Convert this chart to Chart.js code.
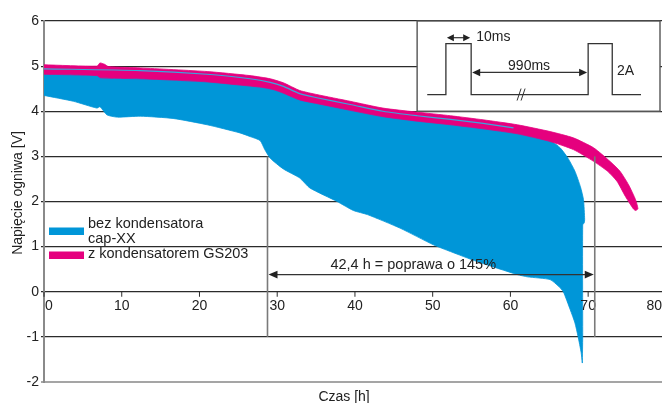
<!DOCTYPE html>
<html lang="pl">
<head>
<meta charset="utf-8">
<title>Napięcie ogniwa</title>
<script src="https://cdn.jsdelivr.net/npm/chart.js@4.4.1/dist/chart.umd.min.js"></script>
<style>
  html, body { margin: 0; padding: 0; background: #fff; overflow: hidden; }
  #wrap { width: 662px; height: 403px; }
</style>
</head>
<body>
<div id="wrap"><canvas id="chart" width="662" height="403"></canvas></div>
<script>
/* Battery voltage vs time, with / without the GS203 supercap.
   Bands are closed polygons: upper edge forward, lower edge back. */

const FONT = '"Liberation Sans", Arial, Helvetica, sans-serif';
const BLUE = "#0096d8";
const PINK = "#e5007e";

const xTickLabels = [0, 10, 20, 30, 40, 50, 60, 70, 80];
const yTickLabels = [-2, -1, 0, 1, 2, 3, 4, 5, 6];
const legendLabels = [["bez kondensatora", "cap-XX"], ["z kondensatorem GS203"]];

// pink band (z kondensatorem)
const pinkUpperH = [0, 6.8, 7.2, 7.8, 8.3, 12.4, 21, 26.5, 29.1, 30.8, 32.9, 35.1, 39.4, 43.6, 48, 52.3, 56.5, 60.9, 65.1, 68.1, 70.7, 72.8, 74.1, 75.2, 76.1, 76.4];
const pinkUpperV = [5.03, 5.0, 5.07, 5.04, 4.99, 4.96, 4.88, 4.79, 4.72, 4.63, 4.46, 4.37, 4.22, 4.07, 3.98, 3.9, 3.81, 3.7, 3.55, 3.41, 3.19, 2.89, 2.67, 2.37, 2.04, 1.84];
const pinkLowerH = [0, 6.8, 7.3, 12.4, 16.6, 21, 25.2, 28, 29.5, 30.8, 32.9, 35.1, 39.4, 43.6, 48, 52.3, 56.5, 60.9, 65.1, 68.1, 70.7, 72.5, 73.7, 74.8, 75.8, 76.1];
const pinkLowerV = [4.82, 4.79, 4.74, 4.72, 4.69, 4.65, 4.58, 4.53, 4.48, 4.4, 4.25, 4.17, 4.02, 3.88, 3.78, 3.7, 3.61, 3.5, 3.33, 3.15, 2.89, 2.67, 2.45, 2.11, 1.84, 1.8];

// blue band (bez kondensatora)
const blueUpperH = [0, 12.4, 21, 26.5, 29.1, 30.8, 32.9, 35.1, 39.4, 43.6, 48, 52.3, 56.5, 60.4, 62.5, 65.1, 66.4, 67.4, 68.3, 69.0, 69.4, 69.55, 69.5, 69.3, 69.3, 69.25];
const blueUpperV = [4.94, 4.9, 4.82, 4.72, 4.64, 4.55, 4.39, 4.3, 4.15, 4.0, 3.9, 3.82, 3.73, 3.63, 3.55, 3.36, 3.19, 2.96, 2.67, 2.33, 2.04, 1.6, 1.53, 1.48, -1.0, -1.58];
const blueLowerH = [0, 3.8, 6.8, 7.2, 8.1, 9.4, 12.4, 16.6, 21, 25.2, 26.5, 27.8, 28.4, 29.1, 30.8, 32.9, 34.2, 37.7, 39.8, 41.6, 45.8, 50.1, 52.3, 55.7, 60.9, 62.2, 65.1, 66.2, 66.8, 67.7, 68.3, 68.7, 69.1, 69.25];
const blueLowerV = [4.35, 4.22, 4.07, 4.1, 3.92, 3.87, 3.89, 3.84, 3.7, 3.52, 3.44, 3.35, 3.15, 2.96, 2.72, 2.52, 2.3, 2.0, 1.8, 1.71, 1.41, 1.04, 0.89, 0.67, 0.38, 0.33, 0.27, 0.12, 0.0, -0.4, -0.69, -0.99, -1.35, -1.58];

// thin blue trace visible inside the pink band
const traceH = [0, 12.4, 21, 26.5, 29.1, 30.8, 32.9, 35.1, 39.4, 43.6, 48, 52.3, 56.5, 60.4];
const traceV = [4.94, 4.9, 4.82, 4.72, 4.64, 4.55, 4.39, 4.3, 4.15, 4.0, 3.9, 3.82, 3.73, 3.63];

// runtime improvement markers (h) and arrow level (V)
const markerH = [28.75, 70.85];
const markerArrowV = 0.38;

function pts(hs, vs) {
  return hs.map((h, i) => ({ x: h, y: vs[i] }));
}

function band(upH, upV, loH, loV) {
  return pts(upH, upV).concat(pts(loH, loV).reverse());
}

function arrowHead(ctx, x, y, dir, len, half) {
  ctx.beginPath();
  ctx.moveTo(x, y);
  ctx.lineTo(x - dir * len, y - half);
  ctx.lineTo(x - dir * len, y + half);
  ctx.closePath();
  ctx.fill();
}

const overlay = {
  id: "overlay",
  afterDraw(chart) {
    const { ctx, chartArea: a, scales } = chart;
    const px = (v) => scales.x.getPixelForValue(v);
    const py = (v) => scales.y.getPixelForValue(v);
    ctx.save();
    ctx.fillStyle = "#222";
    ctx.strokeStyle = "#2b2b2b";

    // x ticks sit on the zero line
    const y0 = py(0);
    ctx.lineWidth = 1;
    ctx.font = "14px " + FONT;
    ctx.textBaseline = "middle";
    xTickLabels.forEach((t) => {
      const X = px(t);
      if (X <= a.right) {
        ctx.beginPath();
        ctx.moveTo(X, y0);
        ctx.lineTo(X, y0 + 5);
        ctx.stroke();
      }
      let tx = X;
      ctx.textAlign = "center";
      if (t === 0) { ctx.textAlign = "left"; tx = X + 1; }
      else if (X > a.right - 10) { ctx.textAlign = "right"; tx = a.right; }
      ctx.fillText(String(t), tx, y0 + 14);
    });

    // axis titles
    ctx.textAlign = "center";
    ctx.fillText("Czas [h]", px(38.6), a.bottom + 15);
    ctx.save();
    ctx.translate(18, a.top + 172);
    ctx.rotate(-Math.PI / 2);
    ctx.fillText("Napięcie ogniwa [V]", 0, 0);
    ctx.restore();

    // marker lines + arrow
    ctx.strokeStyle = "#7a7a7a";
    ctx.lineWidth = 1.6;
    markerH.forEach((h) => {
      ctx.beginPath();
      ctx.moveTo(px(h), py(3));
      ctx.lineTo(px(h), py(-1));
      ctx.stroke();
    });
    const ay = py(markerArrowV);
    const ax1 = px(markerH[0]) + 1, ax2 = px(markerH[1]) - 1;
    ctx.strokeStyle = "#333";
    ctx.lineWidth = 1.2;
    ctx.beginPath();
    ctx.moveTo(ax1 + 4, ay);
    ctx.lineTo(ax2 - 4, ay);
    ctx.stroke();
    ctx.fillStyle = "#222";
    arrowHead(ctx, ax1, ay, -1, 9, 3.8);
    arrowHead(ctx, ax2, ay, 1, 9, 3.8);
    ctx.font = "14.5px " + FONT;
    ctx.fillText("42,4 h = poprawa o 145%", px(47.5), py(0.6));

    // legend
    const lx = a.left + 5;
    ctx.fillStyle = BLUE;
    ctx.fillRect(lx, a.top + 206.5, 35, 7.5);
    ctx.fillStyle = PINK;
    ctx.fillRect(lx, a.top + 230.5, 35, 7.5);
    ctx.fillStyle = "#222";
    ctx.textAlign = "left";
    ctx.textBaseline = "alphabetic";
    ctx.fillText(legendLabels[0][0], lx + 39, a.top + 207);
    ctx.fillText(legendLabels[0][1], lx + 39, a.top + 222);
    ctx.fillText(legendLabels[1][0], lx + 39, a.top + 237);

    // inset: pulse load diagram
    const bx = px(48), by = py(6), bw = a.right - 2 - bx, bh = py(4) - by;
    ctx.fillStyle = "#fff";
    ctx.fillRect(bx, by, bw, bh);
    ctx.strokeStyle = "#555";
    ctx.lineWidth = 1.4;
    ctx.strokeRect(bx, by, bw, bh);

    const base = py(4.37), high = py(5.5);
    ctx.strokeStyle = "#333";
    ctx.lineWidth = 1.3;
    ctx.beginPath();
    ctx.moveTo(px(49.3), base);
    ctx.lineTo(px(51.7), base);
    ctx.lineTo(px(51.7), high);
    ctx.lineTo(px(54.95), high);
    ctx.lineTo(px(54.95), base);
    ctx.lineTo(px(70.0), base);
    ctx.lineTo(px(70.0), high);
    ctx.lineTo(px(73.1), high);
    ctx.lineTo(px(73.1), base);
    ctx.lineTo(px(76.8), base);
    ctx.stroke();

    // break marks
    const sx = px(61.5);
    ctx.lineWidth = 1;
    ctx.beginPath();
    ctx.moveTo(sx - 5, base + 6); ctx.lineTo(sx - 1, base - 6);
    ctx.moveTo(sx - 1, base + 6); ctx.lineTo(sx + 3, base - 6);
    ctx.stroke();

    ctx.fillStyle = "#222";
    ctx.lineWidth = 1.2;
    const a10 = py(5.63);
    ctx.beginPath();
    ctx.moveTo(px(51.7) + 4, a10); ctx.lineTo(px(54.95) - 4, a10);
    ctx.stroke();
    arrowHead(ctx, px(51.7) + 1, a10, -1, 7, 3.5);
    arrowHead(ctx, px(54.95) - 1, a10, 1, 7, 3.5);

    const a990 = py(4.86);
    ctx.beginPath();
    ctx.moveTo(px(54.95) + 4, a990); ctx.lineTo(px(70.0) - 4, a990);
    ctx.stroke();
    arrowHead(ctx, px(54.95) + 1, a990, -1, 8, 3.8);
    arrowHead(ctx, px(70.0) - 1, a990, 1, 8, 3.8);

    ctx.font = "14px " + FONT;
    ctx.textBaseline = "middle";
    ctx.textAlign = "left";
    ctx.fillText("10ms", px(55.6), py(5.65));
    ctx.fillText("2A", px(73.7), py(4.88));
    ctx.textAlign = "center";
    ctx.fillText("990ms", px(62.4), py(4.99));

    ctx.restore();
  }
};

new Chart(document.getElementById("chart"), {
  type: "line",
  data: {
    datasets: [
      {
        label: "trace",
        data: pts(traceH, traceV),
        borderColor: "#3aa6dd",
        borderWidth: 1.2,
        pointRadius: 0,
        fill: false,
        tension: 0.25
      },
      {
        label: "z kondensatorem GS203",
        data: band(pinkUpperH, pinkUpperV, pinkLowerH, pinkLowerV),
        borderColor: PINK,
        backgroundColor: PINK,
        borderWidth: 0.8,
        pointRadius: 0,
        fill: "shape",
        tension: 0.2
      },
      {
        label: "bez kondensatora cap-XX",
        data: band(blueUpperH, blueUpperV, blueLowerH, blueLowerV),
        borderColor: BLUE,
        backgroundColor: BLUE,
        borderWidth: 0.8,
        pointRadius: 0,
        fill: "shape",
        tension: 0.2
      }
    ]
  },
  options: {
    responsive: false,
    animation: false,
    layout: { padding: { top: 21, bottom: 21, left: 0, right: 0 } },
    plugins: { legend: { display: false }, tooltip: { enabled: false } },
    scales: {
      x: { type: "linear", min: 0, max: 79.5, display: false },
      y: {
        type: "linear",
        min: -2,
        max: 6,
        z: 1,
        afterFit: (s) => { s.width = 44; },
        afterBuildTicks: (s) => { s.ticks = yTickLabels.map((v) => ({ value: v })); },
        ticks: { color: "#222", padding: 2, font: { family: FONT, size: 14 } },
        grid: {
          color: (c) => (c.tick && c.tick.value === -2 ? "#a5a5a5" : "#2b2b2b"),
          lineWidth: (c) => (c.tick && c.tick.value === -2 ? 2 : 1.2),
          tickLength: 3
        },
        border: { color: "#8a8a8a", width: 2 }
      }
    }
  },
  plugins: [overlay]
});
</script>
</body>
</html>
